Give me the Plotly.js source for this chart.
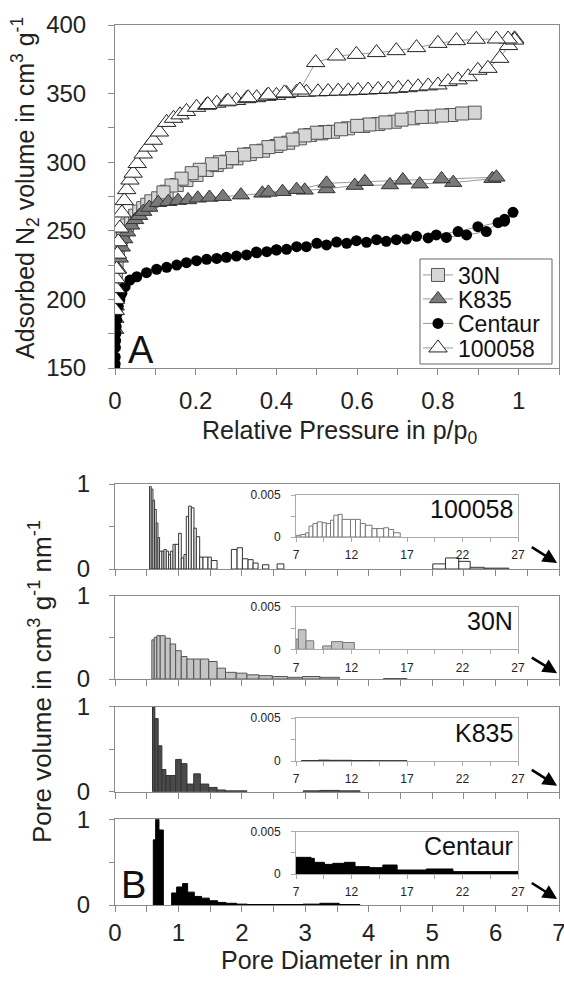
<!DOCTYPE html>
<html><head><meta charset="utf-8">
<script src="https://cdn.plot.ly/plotly-3.0.1.min.js"></script>
<style>html,body{margin:0;padding:0;background:#fff}#chart{width:564px;height:981px}</style>
</head><body><div id="chart"></div>
<script>
// ---------- Panel A: N2 isotherms (relative pressure p/p0, adsorbed volume cm3/g) ----------
const p30N_ads = [0.0005,0.001,0.002,0.004,0.007,0.010,0.015,0.020,0.030,0.040,0.050,0.060,0.070,0.080,0.090,0.107,0.128,0.153,0.177,0.202,0.227,0.252,0.276,0.301,0.334,0.367,0.400,0.429,0.458,0.483,0.511,0.540,0.577,0.615,0.652,0.693,0.738,0.784,0.833,0.891];
const v30N_ads = [205,212,220,228,235,240,245,249,254,258,261,264,266.5,269,271.5,273.7,278.5,283.4,287,290.7,294.3,297.9,300.4,302.8,305.9,308.4,311.8,314.2,317.4,319.8,321,322.2,324.7,326.4,327.8,329.5,332,333.2,334.4,336.1];
const p30N_des = [0.86,0.81,0.76,0.71,0.67,0.63,0.60,0.56,0.52,0.50,0.47,0.44,0.41,0.38,0.35,0.32,0.29,0.26,0.24,0.21,0.19,0.165,0.14,0.12];
const v30N_des = [335.5,334,333,331,329,327.5,326.5,324,322,321.5,319.5,316.5,313.5,311,308,305.5,303,300,298.5,294.5,292,288,283,278];

const pK835_ads = [0.0005,0.001,0.002,0.003,0.005,0.008,0.012,0.017,0.023,0.030,0.040,0.050,0.060,0.070,0.085,0.107,0.132,0.156,0.181,0.205,0.234,0.267,0.312,0.365,0.415,0.470,0.524,0.594,0.681,0.755,0.838,0.935];
const vK835_ads = [178,186,195,203,212,222,230,238,244,249,254,258,261,264,267,270.5,271.2,272,272.5,273.7,274.3,274.9,276,277.3,278.5,279.5,280.5,283,283.4,284,285.1,288];
const pK835_des = [0.945,0.809,0.713,0.619,0.524,0.45,0.38];
const vK835_des = [289,287.8,287,285.8,284.6,280,278];

const pCentaur_ads = [0.0002,0.0004,0.0006,0.001,0.0015,0.002,0.003,0.004,0.006,0.008,0.012,0.017,0.025,0.037,0.054,0.078,0.103,0.128,0.153,0.177,0.202,0.227,0.252,0.276,0.301,0.326,0.351,0.376,0.400,0.425,0.474,0.524,0.574,0.623,0.672,0.722,0.776,0.821,0.871,0.920,0.949,0.965,0.986];
const vCentaur_ads = [149,153,158,165,170,175,180,185,190,195,200,204.4,209.3,214.1,216.5,219.5,221.9,223.4,225,226.8,228.2,229.2,229.9,230.7,231.6,232.4,234,234.8,236,236.5,238.4,239.7,240.9,241.6,242.3,244,244.8,245.2,247,249.4,255.9,258.4,263.5];
const pCentaur_des = [0.965,0.899,0.850,0.796,0.747,0.697,0.648,0.598,0.549,0.500,0.450,0.400,0.350];
const vCentaur_des = [257,253,249.4,247,246,243.5,243.5,242.8,241.8,240.9,238.4,236.2,234.5];

const p100058_ads = [0.0005,0.001,0.002,0.003,0.004,0.006,0.008,0.012,0.017,0.023,0.029,0.037,0.045,0.055,0.070,0.082,0.095,0.110,0.128,0.145,0.161,0.177,0.202,0.227,0.252,0.276,0.301,0.326,0.351,0.376,0.400,0.425,0.450,0.474,0.503,0.528,0.553,0.578,0.602,0.627,0.652,0.677,0.702,0.726,0.751,0.776,0.800,0.825,0.850,0.875,0.899,0.924,0.953,0.975,0.990];
const v100058_ads = [192,200,208,215,222,233,242,252,263,272,280,287,292,299,306,311,316,322,329,332,334.5,337,340,341.5,343,344,345,346.3,347,348,348.7,350,351,351,351.3,351.5,351.8,352,352.3,352.6,353,353.3,353.8,354.3,355,355.6,356.3,358.7,360,362.3,367,368.4,375.7,385,390];
const p100058_des = [0.990,0.974,0.945,0.895,0.846,0.800,0.747,0.697,0.648,0.598,0.549,0.497,0.458,0.420,0.380,0.330,0.280,0.230];
const v100058_des = [389,389.8,389.8,389.6,388.6,386.6,383.5,381.3,379.9,378.6,377.4,372.6,352.6,350.5,349,347,344.5,342];

// ---------- Panel B: pore size distributions (bin edges in nm, normalised volume) ----------
const lo_100058 = [0.545,0.571,0.598,0.624,0.650,0.677,0.703,0.740,0.772,0.808,0.845,0.877,0.914,0.950,1.003,1.045,1.087,1.124,1.161,1.203,1.245,1.282,1.335,1.387,1.466,1.519,1.835,1.925,2.009,2.098,2.177,2.325,2.556,5.01,5.21,5.42,5.60,5.82];
const hi_100058 = [0.571,0.598,0.624,0.650,0.677,0.703,0.740,0.772,0.808,0.845,0.877,0.914,0.950,1.003,1.045,1.087,1.124,1.161,1.203,1.245,1.282,1.335,1.387,1.466,1.519,1.609,1.925,2.009,2.098,2.177,2.256,2.425,2.662,5.21,5.42,5.60,5.82,6.21];
const val_100058 = [0.97,0.94,0.81,0.70,0.54,0.37,0.21,0.21,0.23,0.21,0.17,0.21,0.29,0.29,0.42,0.13,0.17,0.62,0.74,0.72,0.48,0.38,0.14,0.14,0.14,0.10,0.23,0.25,0.12,0.11,0.07,0.05,0.06,0.06,0.13,0.09,0.02,0.01];

const lo_30N = [0.581,0.618,0.660,0.713,0.792,0.871,0.956,1.045,1.135,1.241,1.346,1.478,1.610,1.742,1.911,2.080,2.270,2.481,2.719,2.956,3.231,4.234];
const hi_30N = [0.618,0.660,0.713,0.792,0.871,0.956,1.045,1.135,1.241,1.346,1.478,1.610,1.742,1.911,2.080,2.270,2.481,2.719,2.956,3.231,3.537,4.603];
const val_30N = [0.47,0.50,0.52,0.52,0.49,0.42,0.34,0.27,0.24,0.24,0.24,0.21,0.13,0.08,0.07,0.05,0.04,0.03,0.02,0.03,0.02,0.006];

const lo_K835 = [0.591,0.628,0.681,0.739,0.802,0.871,0.956,1.045,1.135,1.241,1.346,1.478,1.610,1.742,2.967,3.231,3.537];
const hi_K835 = [0.628,0.681,0.739,0.802,0.871,0.956,1.045,1.135,1.241,1.346,1.478,1.610,1.742,2.080,3.231,3.537,3.864];
const val_K835 = [1.0,0.86,0.54,0.26,0.19,0.19,0.38,0.33,0.09,0.21,0.09,0.05,0.02,0.01,0.01,0.015,0.01];

const lo_Centaur = [0.604,0.641,0.693,0.893,0.972,1.066,1.145,1.250,1.366,1.486,1.618,1.749,1.917,2.085,2.967,3.230,3.535];
const hi_Centaur = [0.641,0.693,0.762,0.972,1.066,1.145,1.250,1.366,1.486,1.618,1.749,1.917,2.085,2.967,3.230,3.535,3.860];
const val_Centaur = [0.76,1.0,0.875,0.14,0.21,0.25,0.15,0.10,0.08,0.05,0.03,0.02,0.01,0.005,0.01,0.02,0.005];

// insets: 7-27 nm
const ilo_100058 = [7.03,7.42,7.87,8.17,8.53,8.92,9.37,9.73,10.11,10.41,10.80,11.16,11.91,12.36,12.80,13.25,13.85,14.30,14.90,15.34,15.79];
const ihi_100058 = [7.42,7.87,8.17,8.53,8.92,9.37,9.73,10.11,10.41,10.80,11.16,11.91,12.36,12.80,13.25,13.85,14.30,14.90,15.34,15.79,16.39];
const ival_100058 = [0.0002,0.0003,0.0005,0.0013,0.0016,0.0018,0.0017,0.0016,0.0020,0.0026,0.0027,0.0021,0.0021,0.0021,0.0016,0.0014,0.0010,0.0010,0.0011,0.0009,0.0005];

const ilo_30N = [7.0,7.21,7.9,9.4,10.2,11.2];
const ihi_30N = [7.21,7.9,8.6,10.2,11.2,12.26];
const ival_30N = [0.0012,0.0023,0.0010,0.0004,0.0009,0.0008];

const ilo_K835 = [7.5,9.0,10.0,12.0,14.0];
const ihi_K835 = [9.0,10.0,12.0,14.0,17.0];
const ival_K835 = [0.00005,0.0001,0.00008,0.00005,0.00003];

const ilo_Centaur = [7.0,8.35,8.65,9.56,10.31,11.36,12.32,13.62,14.82,16.11,18.73,21.14];
const ihi_Centaur = [8.35,8.65,9.56,10.31,11.36,12.32,13.62,14.82,16.11,18.73,21.14,27.0];
const ival_Centaur = [0.00197,0.00185,0.00138,0.00114,0.00126,0.00138,0.00087,0.00075,0.00106,0.00047,0.00059,0.00028];

const panelNames = ['100058','30N','K835','Centaur'];

// ---------- build ----------
const FONT = 'Liberation Sans, Arial, sans-serif';
const W = 564, H = 981;
const px = v => v / W;
const py = v => 1 - v / H;

function iso(name, pa, va, pd, vd, marker, leg) {
  return {type:'scatter', mode:'lines+markers', name:name, legend:leg,
    x: pa.concat(pd), y: va.concat(vd), xaxis:'x', yaxis:'y',
    line:{color:'#9a9a9a', width:1}, marker: marker};
}
function bars(L, R, V, xa, ya, fill, edge) {
  return {type:'bar', x: L.map((l,i)=>(l+R[i])/2), width: L.map((l,i)=>R[i]-l), y: V,
    xaxis: xa, yaxis: ya, showlegend:false, marker:{color:fill, line:{color:edge, width:1}}};
}

const traces = [
  iso('30N', p30N_ads, v30N_ads, p30N_des, v30N_des, {symbol:'square', size:13, color:'#d6d6d6', line:{color:'#555', width:1}}, 'legend'),
  iso('K835', pK835_ads, vK835_ads, pK835_des, vK835_des, {symbol:'triangle-up', size:15, color:'#7a7a7a', line:{color:'#333', width:1}}, 'legend2'),
  iso('Centaur', pCentaur_ads, vCentaur_ads, pCentaur_des, vCentaur_des, {symbol:'circle', size:11, color:'#000', line:{color:'#000', width:0}}, 'legend3'),
  iso('100058', p100058_ads, v100058_ads, p100058_des, v100058_des, {symbol:'triangle-up', size:16, color:'#fff', line:{color:'#222', width:1}}, 'legend4'),
  bars(lo_100058, hi_100058, val_100058, 'x2','y2', '#ffffff', '#333'),
  bars(lo_30N, hi_30N, val_30N, 'x3','y3', '#c4c4c4', '#555'),
  bars(lo_K835, hi_K835, val_K835, 'x4','y4', '#4a4a4a', '#333'),
  bars(lo_Centaur, hi_Centaur, val_Centaur, 'x5','y5', '#000', '#000'),
  bars(ilo_100058, ihi_100058, ival_100058, 'x6','y6', '#ffffff', '#777'),
  bars(ilo_30N, ihi_30N, ival_30N, 'x7','y7', '#c4c4c4', '#777'),
  bars(ilo_K835, ihi_K835, ival_K835, 'x8','y8', '#4a4a4a', '#333'),
  bars(ilo_Centaur, ihi_Centaur, ival_Centaur, 'x9','y9', '#000', '#000')
];

const xDom = [px(115), px(559)];
const panelY = [[569,484],[679,595.7],[791.7,706.7],[905,819.3]];
const insetY = [[537,495],[649.3,606.7],[761,718],[874,831.7]];
const insetX = [px(296), px(518)];
const axColor = '#8a8a8a';

function legendAt(yc) {
  return {x:px(418), xanchor:'left', y:py(yc), yanchor:'middle', bgcolor:'rgba(0,0,0,0)',
    borderwidth:0, font:{size:23, family:FONT, color:'#111'}, itemwidth:30};
}

const layout = {
  width: W, height: H, margin:{l:0,r:0,t:0,b:0},
  paper_bgcolor:'#fff', plot_bgcolor:'#fff', barmode:'overlay', bargap:0,
  font:{family:FONT, color:'#222', size:22},
  showlegend:true,
  legend: legendAt(275), legend2: legendAt(299), legend3: legendAt(323.5), legend4: legendAt(348),
  xaxis:{domain:xDom, anchor:'y', range:[0,1.1], tickmode:'array',
    tickvals:[0,0.2,0.4,0.6,0.8,1], ticktext:['0','0.2','0.4','0.6','0.8','1'],
    ticks:'outside', ticklen:6, tickcolor:axColor, showline:true, linecolor:axColor, mirror:true,
    showgrid:false, zeroline:false, tickfont:{size:24}, ticklabelstandoff:5,
    minor:{dtick:0.1, tick0:0, ticks:'outside', ticklen:6, tickcolor:axColor}},
  yaxis:{domain:[py(368), py(25)], anchor:'x', range:[150,400], tickmode:'linear', tick0:150, dtick:50,
    ticks:'outside', ticklen:6, tickcolor:axColor, showline:true, linecolor:axColor, mirror:true,
    showgrid:false, zeroline:false, tickfont:{size:24}, ticklabelstandoff:17,
    minor:{dtick:25, ticks:'outside', ticklen:6, tickcolor:axColor}},
  annotations:[],
  shapes:[{type:'rect', xref:'paper', yref:'paper', x0:px(420), x1:px(552), y0:py(364), y1:py(259),
    line:{color:'#666', width:1}, fillcolor:'#fff', layer:'above'}]
};

for (let i = 0; i < 4; i++) {
  const n = i + 2, m = i + 6;
  const last = i === 3;
  layout['xaxis' + n] = {domain:xDom, anchor:'y' + n, range:[0,7], tickmode:'array',
    tickvals:[0,1,2,3,4,5,6,7], ticktext:['0','1','2','3','4','5','6','7'],
    ticks:'outside', ticklen:6, tickcolor:axColor, showline:true, linecolor:axColor, mirror:true,
    showgrid:false, zeroline:false, showticklabels:last, tickfont:{size:24}, ticklabelstandoff:0,
    ticklabeloverflow:'allow',
    minor:{dtick:0.5, tick0:0, ticks:'outside', ticklen:6, tickcolor:axColor}};
  layout['yaxis' + n] = {domain:[py(panelY[i][0]), py(panelY[i][1])], anchor:'x' + n, range:[0,1],
    tickmode:'array', tickvals:[0,1], ticktext:['0','1'], ticks:'outside', ticklen:5, tickcolor:axColor,
    showline:true, linecolor:axColor, mirror:true, showgrid:false, zeroline:false,
    tickfont:{size:24}, ticklabelstandoff:14,
    minor:{tickvals:[0.5], ticks:'outside', ticklen:5, tickcolor:axColor}};
  layout['xaxis' + m] = {domain:insetX, anchor:'y' + m, range:[7,27], tickmode:'array',
    tickvals:[7,12,17,22,27], ticktext:['7','12','17','22','27'], ticks:'outside', ticklen:4, tickcolor:'#aaa',
    showline:true, linecolor:'#aaa', mirror:true, showgrid:false, zeroline:false,
    tickfont:{size:12}, ticklabelstandoff:3,
    minor:{dtick:2.5, tick0:7, ticks:'outside', ticklen:4, tickcolor:'#aaa'}};
  layout['yaxis' + m] = {domain:[py(insetY[i][0]), py(insetY[i][1])], anchor:'x' + m, range:[0,0.005],
    tickmode:'array', tickvals:[0,0.005], ticktext:['0','0.005'], ticks:'outside', ticklen:4, tickcolor:'#aaa',
    showline:true, linecolor:'#aaa', mirror:true, showgrid:false, zeroline:false,
    tickfont:{size:12}, ticklabelstandoff:8,
    minor:{tickvals:[0.0025], ticks:'outside', ticklen:4, tickcolor:'#aaa'}};
  layout.annotations.push({xref:'x' + m + ' domain', yref:'y' + m + ' domain', x:0.985, y:0.66,
    xanchor:'right', yanchor:'middle', showarrow:false, text:panelNames[i], font:{size:25, family:FONT, color:'#111'}});
  layout.annotations.push({xref:'x' + n, yref:'y' + n, axref:'x' + n, ayref:'y' + n,
    x:6.97, y:0.07, ax:6.5, ay:0.29, showarrow:true, arrowhead:2, arrowsize:1.1, arrowwidth:2.6,
    arrowcolor:'#000', text:' '});
}

layout.annotations.push(
  {xref:'paper', yref:'paper', x:px(339), y:py(432), xanchor:'center', yanchor:'middle', showarrow:false,
   text:'Relative Pressure in p/p<sub>0</sub>', font:{size:25, family:FONT, color:'#222'}},
  {xref:'paper', yref:'paper', x:px(25), y:py(188), xanchor:'center', yanchor:'middle', showarrow:false, textangle:-90,
   text:'Adsorbed N<sub>2</sub> volume in cm<sup>3</sup> g<sup>-1</sup>', font:{size:25, family:FONT, color:'#222'}},
  {xref:'paper', yref:'paper', x:px(335), y:py(960), xanchor:'center', yanchor:'middle', showarrow:false,
   text:'Pore Diameter in nm', font:{size:25, family:FONT, color:'#222'}},
  {xref:'paper', yref:'paper', x:px(40), y:py(682), xanchor:'center', yanchor:'middle', showarrow:false, textangle:-90,
   text:'Pore volume in cm<sup>3</sup> g<sup>-1</sup> nm<sup>-1</sup>', font:{size:26, family:FONT, color:'#222'}},
  {xref:'paper', yref:'paper', x:px(141), y:py(350), xanchor:'center', yanchor:'middle', showarrow:false,
   text:'A', font:{size:38, family:FONT, color:'#111'}},
  {xref:'paper', yref:'paper', x:px(133), y:py(885), xanchor:'center', yanchor:'middle', showarrow:false,
   text:'B', font:{size:38, family:FONT, color:'#111'}}
);

Plotly.newPlot('chart', traces, layout, {displayModeBar:false, staticPlot:true});
</script></body></html>
